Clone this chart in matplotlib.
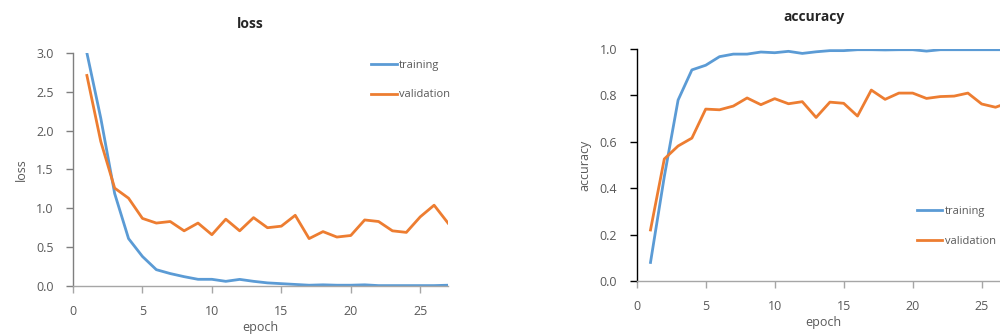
import numpy as np
import matplotlib.pyplot as plt

plt.rcParams['font.family'] = ['Open Sans', 'DejaVu Sans']

# data
epochs = list(range(1, 28))

train_loss = [3.00, 2.16, 1.19, 0.61, 0.38, 0.21, 0.16, 0.12, 0.086, 0.086,
              0.06, 0.085, 0.06, 0.04, 0.03, 0.02, 0.01, 0.015, 0.01, 0.01,
              0.015, 0.005, 0.005, 0.005, 0.005, 0.005, 0.01]
val_loss = [2.71, 1.86, 1.26, 1.13, 0.87, 0.81, 0.83, 0.71, 0.81, 0.66,
            0.86, 0.71, 0.88, 0.75, 0.77, 0.91, 0.61, 0.70, 0.63, 0.65,
            0.85, 0.83, 0.71, 0.69, 0.89, 1.04, 0.81]

train_acc = [0.08, 0.45, 0.78, 0.91, 0.93, 0.967, 0.978, 0.978, 0.987, 0.984,
             0.99, 0.981, 0.988, 0.993, 0.993, 0.997, 0.997, 0.996, 0.997, 0.997,
             0.991, 0.997, 0.997, 0.997, 0.997, 0.997, 0.997]
val_acc = [0.22, 0.526, 0.582, 0.616, 0.741, 0.738, 0.754, 0.789, 0.76, 0.786,
           0.764, 0.773, 0.705, 0.771, 0.766, 0.711, 0.823, 0.783, 0.81, 0.81,
           0.787, 0.795, 0.797, 0.81, 0.763, 0.749, 0.77]

blue = '#5B9BD5'
orange = '#ED7D31'
grey_txt = '#595959'

fig = plt.figure(figsize=(10, 3.35), dpi=100)

def style(ax, left_spine_color):
    for s in ['top', 'right']:
        ax.spines[s].set_visible(False)
    ax.spines['left'].set_color(left_spine_color)
    ax.spines['bottom'].set_color('#A6A6A6')
    ax.spines['left'].set_linewidth(1.0)
    ax.spines['bottom'].set_linewidth(1.0)
    ax.tick_params(axis='both', direction='out', length=5, width=1,
                   labelsize=9, labelcolor=grey_txt)
    ax.tick_params(axis='y', color=left_spine_color, pad=9)
    ax.tick_params(axis='x', color='#A6A6A6', pad=9)
    ax.set_xlim(0, 27)
    ax.set_xticks([0, 5, 10, 15, 20, 25])

# loss
ax1 = fig.add_axes([0.073, 0.1463, 0.375, 0.6957])
ax1.plot(epochs, train_loss, color=blue, lw=2, label='training')
ax1.plot(epochs, val_loss, color=orange, lw=2, label='validation')
style(ax1, '#7F7F7F')
ax1.set_ylim(0, 3.0)
ax1.set_yticks(np.arange(0, 3.01, 0.5))
ax1.yaxis.set_major_formatter(plt.FormatStrFormatter('%.1f'))
ax1.set_title('loss', x=0.472, y=1.07, fontsize=10, fontweight='bold', color='#262626')
ax1.set_xlabel('epoch', fontsize=9, color=grey_txt, labelpad=2)
ax1.set_ylabel('loss', fontsize=9, color=grey_txt, labelpad=6)
ax1.legend(loc='center left', bbox_to_anchor=(0.795, 0.884), frameon=False,
           fontsize=8, labelcolor=grey_txt, handlelength=2.3, handletextpad=0.2,
           labelspacing=1.7, borderpad=0, borderaxespad=0)

# accuracy
ax2 = fig.add_axes([0.6367, 0.1612, 0.3726, 0.6925])
ax2.plot(epochs, train_acc, color=blue, lw=2, label='training')
ax2.plot(epochs, val_acc, color=orange, lw=2, label='validation')
style(ax2, '#000000')
ax2.set_ylim(0, 1.0)
ax2.set_yticks(np.arange(0, 1.01, 0.2))
ax2.yaxis.set_major_formatter(plt.FormatStrFormatter('%.1f'))
ax2.set_title('accuracy', x=0.476, y=1.085, fontsize=10, fontweight='bold', color='#262626')
ax2.set_xlabel('epoch', fontsize=9, color=grey_txt, labelpad=2)
ax2.set_ylabel('accuracy', fontsize=9, color=grey_txt, labelpad=6)
ax2.legend(loc='center left', bbox_to_anchor=(0.752, 0.235), frameon=False,
           fontsize=8, labelcolor=grey_txt, handlelength=2.3, handletextpad=0.2,
           labelspacing=1.7, borderpad=0, borderaxespad=0)

fig.savefig('out.png', dpi=100)
